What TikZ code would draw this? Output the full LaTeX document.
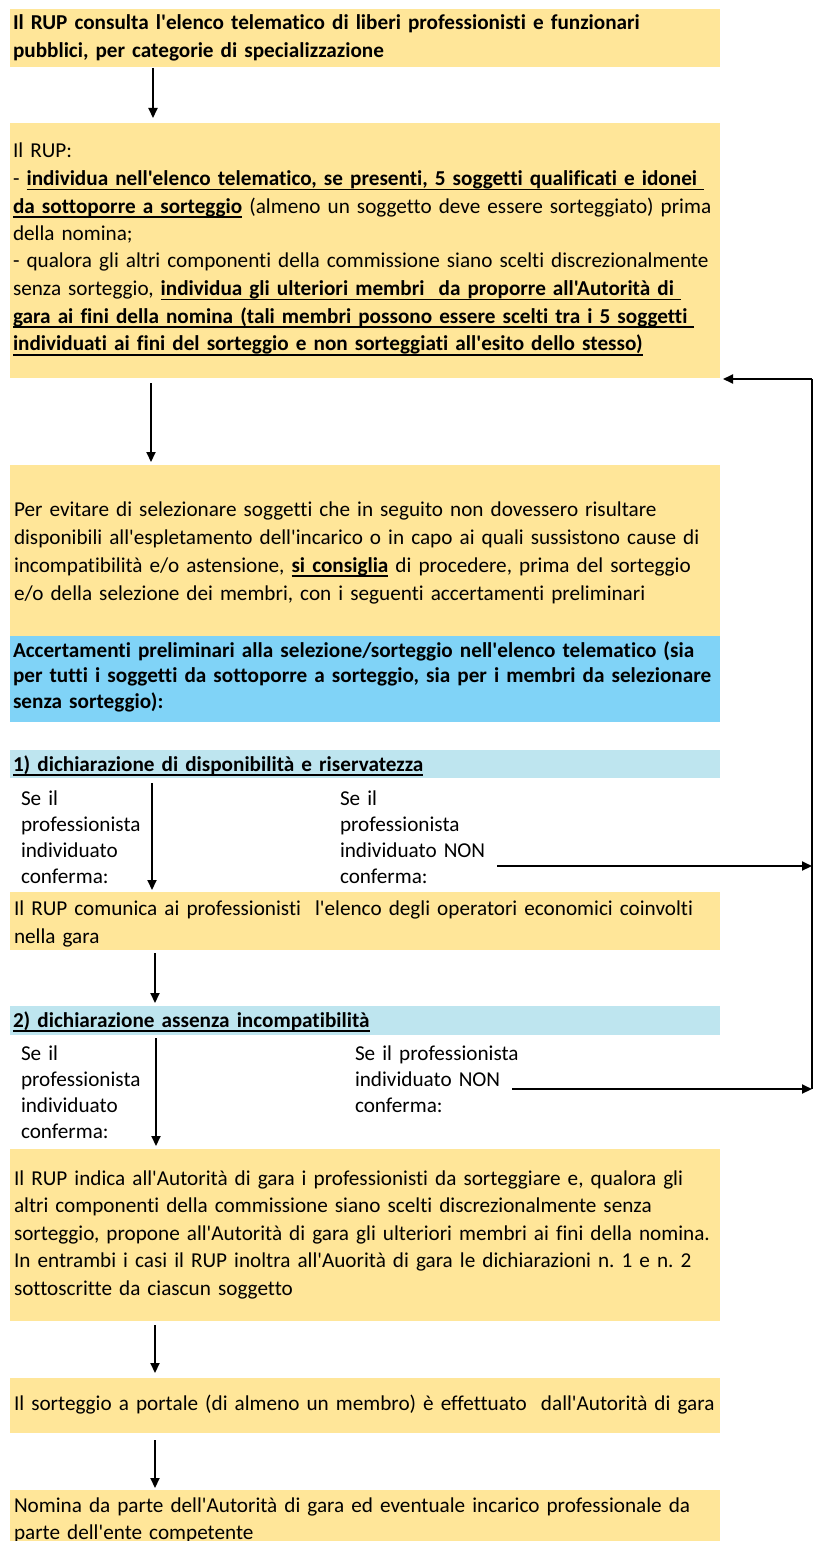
\documentclass[tikz,border=0pt]{standalone}
\usepackage{fontspec}
\setmainfont{Carlito}[Ligatures={TeXOff,NoCommon}]
\usetikzlibrary{arrows.meta}
\definecolor{obox}{HTML}{FFE699}
\definecolor{bbox}{HTML}{80D3F7}
\definecolor{lbox}{HTML}{BEE5EF}
\newcommand\myul[1]{\leavevmode\setbox0\hbox{#1}\rlap{\rule[-5pt]{\wd0}{1.8pt}}\box0\relax}
\tikzset{
  box/.style={rectangle, inner sep=0pt, outer sep=0pt, minimum width=710pt, anchor=north west, draw=none},
  ob/.style={box, fill=obox},
  bb/.style={box, fill=bbox},
  lb/.style={box, fill=lbox},
  txt/.style={inner sep=0pt, outer sep=0pt, anchor=base west, text width=790pt, align=left, font=\fontsize{21.2}{#1}\selectfont\frenchspacing},
  txt/.default=28,
  arr/.style={-{Triangle[length=10pt,width=9pt]}, line width=2pt},
  ln/.style={line width=2pt}
}
\begin{document}
\begin{tikzpicture}[x=1pt,y=-1pt]
\useasboundingbox (0,0) rectangle (815,1541);
\clip (0,0) rectangle (815,1541);
% boxes
\node[ob, minimum height=58pt] (b1) at (10,9) {};
\node[ob, minimum height=255pt] (b2) at (10,123) {};
\node[ob, minimum height=171pt] (b3) at (10,465) {};
\node[bb, minimum height=86pt] (b4) at (10,636) {};
\node[lb, minimum height=28pt] (b5) at (10,750) {};
\node[ob, minimum height=58pt] (b6) at (10,892) {};
\node[lb, minimum height=29pt] (b7) at (10,1006) {};
\node[ob, minimum height=172pt] (b8) at (10,1149) {};
\node[ob, minimum height=55pt] (b9) at (10,1378) {};
\node[ob, minimum height=70pt] (b10) at (10,1490) {};
% texts
\node[txt=28] (t1) at (13,30) {\bfseries Il RUP consulta l'elenco telematico di liberi professionisti e funzionari\\pubblici, per categorie di specializzazione};
\node[txt=27.5] (t2) at (13,158) {Il RUP:\\
- \myul{\textbf{individua nell'elenco telematico, se presenti, 5 soggetti qualificati e idonei\ }}\\
\myul{\textbf{da sottoporre a sorteggio}} (almeno un soggetto deve essere sorteggiato) prima\\
della nomina;\\
- qualora gli altri componenti della commissione siano scelti discrezionalmente\\
senza sorteggio, \myul{\textbf{individua gli ulteriori membri\ \ da proporre all'Autorità di\ }}\\
\myul{\textbf{gara ai fini della nomina (tali membri possono essere scelti tra i 5 soggetti\ }}\\
\myul{\textbf{individuati ai fini del sorteggio e non sorteggiati all'esito dello stesso)}}};
\node[txt=28] (t3) at (14,516) {Per evitare di selezionare soggetti che in seguito non dovessero risultare\\
disponibili all'espletamento dell'incarico o in capo ai quali sussistono cause di\\
incompatibilità e/o astensione, \myul{\textbf{si consiglia}} di procedere, prima del sorteggio\\
e/o della selezione dei membri, con i seguenti accertamenti preliminari};
\node[txt=25.5] (t4) at (13,657) {\bfseries Accertamenti preliminari alla selezione/sorteggio nell'elenco telematico (sia\\
per tutti i soggetti da sottoporre a sorteggio, sia per i membri da selezionare\\
senza sorteggio):};
\node[txt] (t5) at (13,771) {\myul{\textbf{1) dichiarazione di disponibilità e riservatezza}}};
\node[txt=26] (l1) at (21,805) {Se il\\professionista\\individuato\\conferma:};
\node[txt=26] (r1) at (340,805) {Se il\\professionista\\individuato NON\\conferma:};
\node[txt=28] (t6) at (14,915) {Il RUP comunica ai professionisti\ \ l'elenco degli operatori economici coinvolti\\nella gara};
\node[txt] (t7) at (13,1027) {\myul{\textbf{2) dichiarazione assenza incompatibilità}}};
\node[txt=26] (l2) at (21,1060) {Se il\\professionista\\individuato\\conferma:};
\node[txt=26] (r2) at (355,1060) {Se il professionista\\individuato NON\\conferma:};
\node[txt=27.5] (t8) at (14,1185) {Il RUP indica all'Autorità di gara i professionisti da sorteggiare e, qualora gli\\
altri componenti della commissione siano scelti discrezionalmente senza\\
sorteggio, propone all'Autorità di gara gli ulteriori membri ai fini della nomina.\\
In entrambi i casi il RUP inoltra all'Auorità di gara le dichiarazioni n. 1 e n. 2\\
sottoscritte da ciascun soggetto};
\node[txt] (t9) at (14,1410) {Il sorteggio a portale (di almeno un membro) è effettuato\ \ dall'Autorità di gara};
\node[txt=27] (t10) at (14,1512) {Nomina da parte dell'Autorità di gara ed eventuale incarico professionale da\\parte dell'ente competente};
% arrow columns
\coordinate (c1) at (153,0);
\coordinate (c2) at (151,0);
\coordinate (c3) at (152,0);
\coordinate (c4) at (155,0);
\coordinate (c5) at (156,0);
% vertical arrows
\draw[arr, shorten <=1pt, shorten >=5pt] (b1.south -| c1) -- (b2.north -| c1);
\draw[arr, shorten <=5pt, shorten >=3pt] (b2.south -| c2) -- (b3.north -| c2);
\draw[arr, shorten <=5pt, shorten >=2pt] (b5.south -| c3) -- (b6.north -| c3);
\draw[arr, shorten <=3pt, shorten >=3pt] (b6.south -| c4) -- (b7.north -| c4);
\draw[arr, shorten <=3pt, shorten >=3pt] (b7.south -| c5) -- (b8.north -| c5);
\draw[arr, shorten <=4pt, shorten >=5pt] (b8.south -| c4) -- (b9.north -| c4);
\draw[arr, shorten <=7pt, shorten >=2pt] (b9.south -| c4) -- (b10.north -| c4);
% feedback loop
\coordinate (ftop) at (812,379);
\coordinate (fb1) at (812,866);
\coordinate (fb2) at (812,1089);
\coordinate (s1) at (497,866);
\coordinate (s2) at (512,1089);
\coordinate (ftip) at (723,379);
\draw[ln] (fb2) -- (ftop);
\draw[arr] (ftop) -- (ftip);
\draw[arr] (s1) -- (fb1);
\draw[arr] (s2) -- (fb2);
\end{tikzpicture}
\end{document}
